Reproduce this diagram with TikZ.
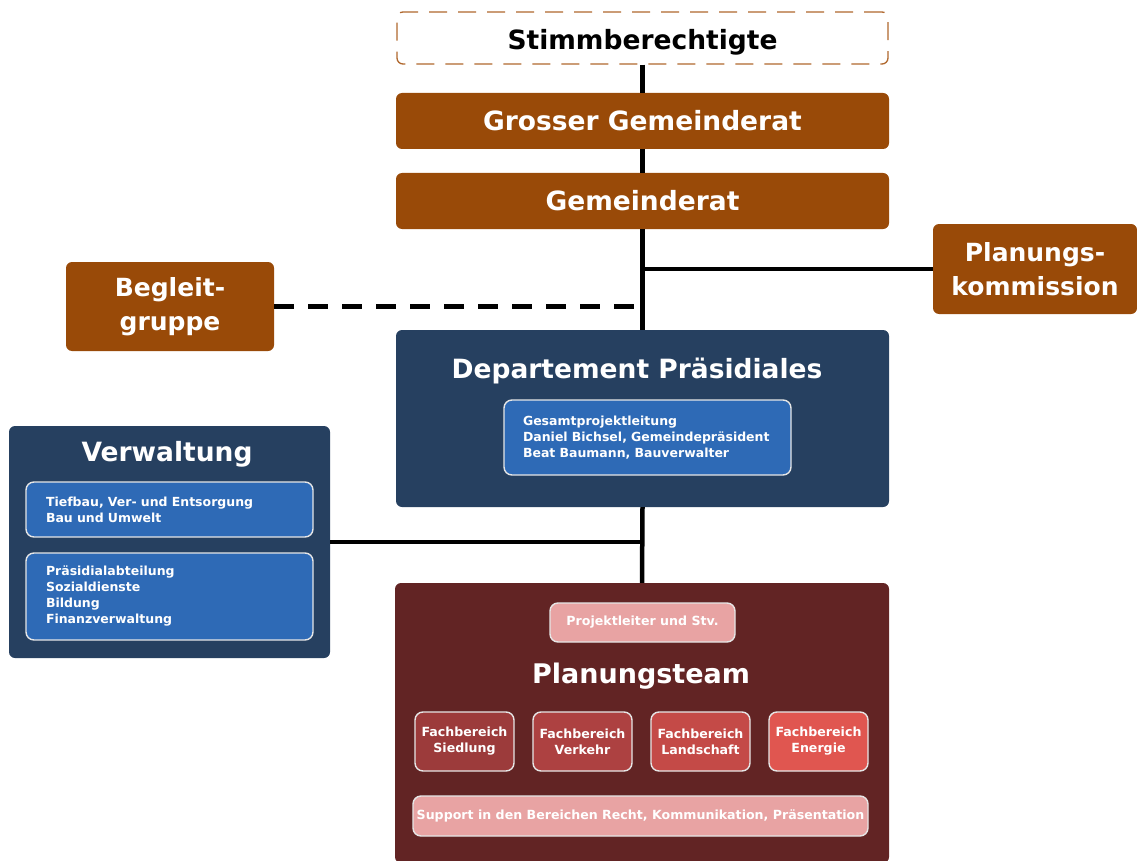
\documentclass[tikz,border=0pt]{standalone}
\usepackage{fontspec}
\setmainfont{DejaVu Sans}
\definecolor{brownc}{HTML}{994A08}
\definecolor{dashc}{HTML}{B0682E}
\definecolor{navy}{HTML}{264060}
\definecolor{midblue}{HTML}{2E6AB6}
\definecolor{wine}{HTML}{622424}
\definecolor{pinkc}{HTML}{E8A3A3}
\definecolor{fa}{HTML}{9C3B3B}
\definecolor{fb}{HTML}{AD4141}
\definecolor{fc}{HTML}{C44A47}
\definecolor{fd}{HTML}{E05650}
\definecolor{edgec}{HTML}{E6E6E6}
\begin{document}
\begin{tikzpicture}[x=1pt,y=-1pt,
  box/.style={rounded corners=6pt, inner sep=0pt, align=center, text=white, font=\bfseries},
  bigfont/.style={font=\fontsize{26.5}{32}\selectfont\bfseries},
  brownbox/.style={box, fill=brownc, bigfont},
  panel/.style={box, fill=#1},
  subbox/.style={rounded corners=8pt, draw=edgec, line width=1.4pt, fill=midblue, text=white,
     inner xsep=19pt, inner ysep=0pt, align=left, font=\fontsize{12.5}{16}\selectfont\bfseries},
  smallbox/.style={rounded corners=8pt, draw=edgec, line width=1.4pt, fill=#1, text=white,
     inner sep=0pt, align=center, font=\fontsize{12.6}{16}\selectfont\bfseries},
  title/.style={text=white, bigfont, inner sep=0pt},
  link/.style={line width=4.5pt, black},
]
\useasboundingbox (0,0) rectangle (1137,861);

\node[box, draw=dashc, dash pattern=on 18pt off 11pt, line width=1.3pt, fill=white,
      minimum width=491pt, minimum height=52pt] (stimm) at (642.5,38) {};
\node[bigfont, text=black, inner sep=0pt, yshift=-4pt] (stimmtext) at (stimm.center) {Stimmberechtigte};
\node[brownbox, minimum width=493pt, minimum height=56pt] (grosser) at (642.5,121) {Grosser Gemeinderat};
\node[brownbox, minimum width=493pt, minimum height=56pt] (gemeinde) at (642.5,201) {Gemeinderat};
\node[box, fill=brownc, font=\fontsize{25}{34}\selectfont\bfseries, minimum width=204pt, minimum height=90pt] (plan) at (1035,269) {Planungs-\\kommission};
\node[box, fill=brownc, font=\fontsize{25}{34}\selectfont\bfseries, minimum width=208pt, minimum height=89pt] (begl) at (170,306.5) {Begleit-\\gruppe};

% Departement
\node[panel=navy, minimum width=493pt, minimum height=177pt] (dept) at (642.5,418.5) {};
\node[title] (depttitle) at (637,371) {Departement Präsidiales};
\node[subbox, text width=249pt, minimum height=75pt] (gpl) at (647.5,437.5)
  {Gesamtprojektleitung\\Daniel Bichsel, Gemeindepräsident\\Beat Baumann, Bauverwalter};

% Verwaltung
\node[panel=navy, minimum width=321pt, minimum height=232pt] (verw) at (169.5,542) {};
\node[title] (verwtitle) at (167,454) {Verwaltung};
\node[subbox, text width=247pt, inner xsep=20pt, minimum height=55pt] (tief) at (169.5,509.5)
  {Tiefbau, Ver- und Entsorgung\\Bau und Umwelt};
\node[subbox, text width=247pt, inner xsep=20pt, minimum height=87pt] (praes) at (169.5,596.5)
  {Präsidialabteilung\\Sozialdienste\\Bildung\\Finanzverwaltung};

% Planungsteam
\node[panel=wine, minimum width=494pt, minimum height=280pt] (team) at (642,723) {};
\node[smallbox=pinkc, minimum width=185pt, minimum height=39pt] (pl) at (642.5,622.5) {Projektleiter und Stv.};
\node[title, font=\fontsize{27}{32}\selectfont\bfseries] (teamtitle) at (641,676) {Planungsteam};
\node[smallbox=fa, minimum width=99pt, minimum height=59pt] (f1) at (464.5,741.5) {Fachbereich\\Siedlung};
\node[smallbox=fb, minimum width=99pt, minimum height=59pt] (f2) at (582.5,741.5) {Fachbereich\\Verkehr};
\node[smallbox=fc, minimum width=99pt, minimum height=59pt] (f3) at (700.5,741.5) {Fachbereich\\Landschaft};
\node[smallbox=fd, minimum width=99pt, minimum height=59pt] (f4) at (818.5,741.5) {Fachbereich\\Energie};
\node[smallbox=pinkc, minimum width=455pt, minimum height=40pt] (supp) at (640.5,816)
  {Support in den Bereichen Recht, Kommunikation, Präsentation};

% connectors
\draw[link] (stimm.south) -- (grosser.north);
\draw[link] (grosser.south) -- (gemeinde.north);
\draw[link] (gemeinde.south) -- (dept.north);
\draw[link] (dept.south) -- (team.north);
\draw[link] (plan.west) -- (plan.west -| dept.north);
\draw[link, dash pattern=on 20pt off 14pt] (begl.east) -- (begl.east -| dept.north);
\draw[link] (verw.east) -- (verw.east -| dept.south);
\end{tikzpicture}
\end{document}
